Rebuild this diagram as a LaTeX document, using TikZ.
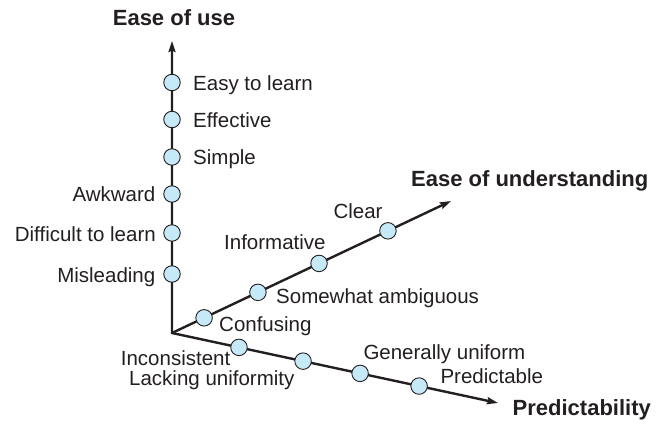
\documentclass[tikz,border=0pt]{standalone}
\usepackage{fontspec}
\setmainfont{Liberation Sans}
\usetikzlibrary{arrows.meta,calc,positioning}
\definecolor{dotblue}{RGB}{198,233,247}
\definecolor{axisgray}{RGB}{35,31,32}

\begin{document}
\begin{tikzpicture}[x=1pt,y=-1pt,
  axis/.style={draw=axisgray, line width=2.4pt},
  tip/.tip={Stealth[length=11pt,width=7pt,inset=1.5pt]},
  dot/.style={circle, draw=axisgray, line width=0.9pt, fill=dotblue, minimum size=16.5pt, inner sep=0pt},
  lbl/.style={font=\fontsize{20.5}{24}\selectfont, text=axisgray, inner sep=0pt},
  ttl/.style={font=\fontsize{22}{26}\selectfont\bfseries, text=axisgray, inner sep=0pt}]
\useasboundingbox (0,0) rectangle (662,425);
% assi
\coordinate (O) at (172,333);
\coordinate (useEnd) at (172,41);
\coordinate (undEnd) at (451,201);
\coordinate (preEnd) at (498,403);
\draw[axis, tip-tip] (useEnd) -- (O) -- (preEnd);
\draw[axis, -tip] (O) -- (undEnd);
% titoli
\node[ttl, anchor=base] (useTitle) at (174,26) {Ease of use};
\node[ttl, anchor=base west] (undTitle) at (411,186.5) {Ease of understanding};
\node[ttl, anchor=base west] (preTitle) at (512.5,415) {Predictability};
% ease of use
\node[dot] (use1) at (172,274) {};
\node[dot] (use2) at (172,233) {};
\node[dot] (use3) at (172,194) {};
\node[dot] (use4) at (172,157) {};
\node[dot] (use5) at (172,119.5) {};
\node[dot] (use6) at (172,82.5) {};
\node[lbl, anchor=base east] (misl) at (155.5,282) {Misleading};
\node[lbl, anchor=base east] (diff) at (156,241) {Difficult to learn};
\node[lbl, anchor=base east] (awkw) at (155.5,201.7) {Awkward};
\node[lbl, anchor=base west] (simp) at (193,165) {Simple};
\node[lbl, anchor=base west] (effe) at (193,127.3) {Effective};
\node[lbl, anchor=base west] (easy) at (193,90.5) {Easy to learn};
% ease of understanding
\node[dot] (und1) at ($(O)!0.115!(undEnd)$) {};
\node[dot] (und2) at ($(O)!0.308!(undEnd)$) {};
\node[dot] (und3) at ($(O)!0.527!(undEnd)$) {};
\node[dot] (und4) at ($(O)!0.774!(undEnd)$) {};
\node[lbl, anchor=base west] (conf) at (219,331) {Confusing};
\node[lbl, anchor=base west] (some) at (276,303.3) {Somewhat ambiguous};
\node[lbl, anchor=base west] (info) at (224,250) {Informative};
\node[lbl, anchor=base west] (clea) at (333.3,218.3) {Clear};
% predictability
\node[dot] (pre1) at ($(O)!0.2055!(preEnd)$) {};
\node[dot] (pre2) at ($(O)!0.402!(preEnd)$) {};
\node[dot] (pre3) at ($(O)!0.577!(preEnd)$) {};
\node[dot] (pre4) at ($(O)!0.758!(preEnd)$) {};
\node[lbl, anchor=base west] (inco) at (120.7,365) {Inconsistent};
\node[lbl, anchor=base west] (lack) at (129,385) {Lacking uniformity};
\node[lbl, anchor=base west] (gene) at (363.3,359.3) {Generally uniform};
\node[lbl, anchor=base west] (pred) at (440.3,383.7) {Predictable};
\end{tikzpicture}
\end{document}
